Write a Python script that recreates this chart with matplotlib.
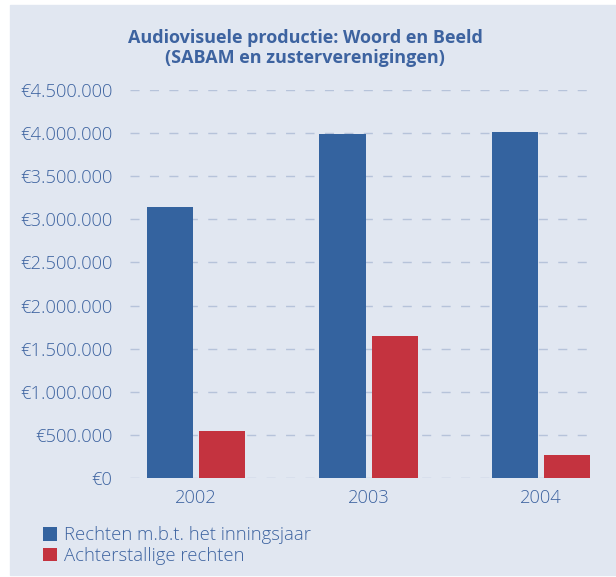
import matplotlib
matplotlib.use("Agg")
import matplotlib.pyplot as plt
from matplotlib.patches import Rectangle
from matplotlib.ticker import FuncFormatter
import numpy as np

years = ["2002", "2003", "2004"]
rechten_jaar = [3140000, 3990000, 4020000]
achterstallig = [542000, 1643000, 262000]
series_labels = ["Rechten m.b.t. het inningsjaar", "Achterstallige rechten"]
title = "Audiovisuele productie: Woord en Beeld\n(SABAM en zusterverenigingen)"

bg = "#e1e7f1"
txt = "#3d63a0"
blue = "#34639f"
red = "#c4333f"
grid_c = "#b6c3da"

plt.rcParams["font.family"] = ["Open Sans", "DejaVu Sans"]
plt.rcParams["font.weight"] = 300

fig = plt.figure(figsize=(6.16, 5.77), dpi=100, facecolor="white")
# light panel behind everything, small white margin top/left
fig.patches.append(Rectangle((10 / 616, 0.003), 1, 1 - 5 / 577 - 0.003,
                             transform=fig.transFigure, color=bg, zorder=-10))

ax = fig.add_axes([130 / 616, 1 - 477.7 / 577, 460 / 616, 387.4 / 577])
ax.set_facecolor("none")

x = np.arange(len(years))
w = 0.267
off = 0.151
b1 = ax.bar(x - off, rechten_jaar, w, color=blue, zorder=3, label=series_labels[0])
b2 = ax.bar(x + off, achterstallig, w, color=red, zorder=3, label=series_labels[1])

ax.set_xlim(-0.383, 2.284)
ax.set_ylim(0, 4500000)
ax.set_yticks(np.arange(0, 4500001, 500000))
ax.yaxis.set_major_formatter(FuncFormatter(lambda v, p: "€" + f"{int(v):,}".replace(",", ".")))
ax.set_xticks(x)
ax.set_xticklabels(years)

ax.grid(axis="y", color=grid_c, linewidth=1.0, linestyle=(0, (6.5, 7.5)), zorder=1)
ax.set_axisbelow(True)
for s in ax.spines.values():
    s.set_visible(False)
ax.tick_params(length=0, labelsize=13.2, labelcolor=txt, pad=8)
ax.tick_params(axis="y", pad=12.5)

fig.text(305 / 616, 1 - 48 / 577, title, ha="center", va="center",
         fontsize=13, fontweight="bold", color=txt, linespacing=1.15)

fig.legend(handles=[b1, b2], labels=series_labels, loc="upper left",
           bbox_to_anchor=(36 / 616, 1 - 519 / 577), frameon=False,
           fontsize=13.3, labelcolor=txt, handlelength=0.75, handleheight=0.75,
           handletextpad=0.35, labelspacing=0.15, borderaxespad=0)

fig.savefig("out.png", dpi=100, facecolor="white")
